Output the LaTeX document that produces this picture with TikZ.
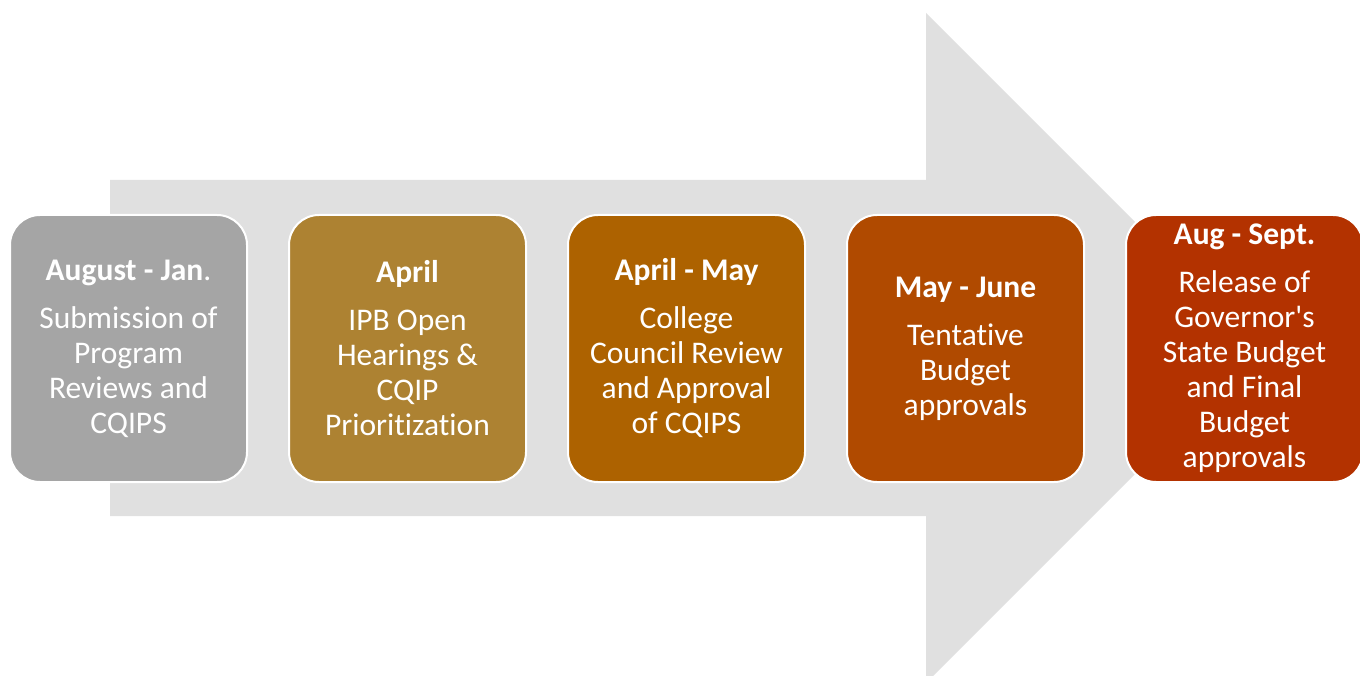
\documentclass[tikz,border=0pt]{standalone}
\usepackage{fontspec}
\setmainfont[Ligatures=NoCommon]{Carlito}
\begin{document}
\begin{tikzpicture}[x=1pt,y=-1pt,
  stage/.style={draw=white, line width=2pt, rounded corners=30pt,
    minimum width=237pt, minimum height=267pt, inner sep=0pt,
    text=white, align=center, font=\fontsize{31.5}{35}\selectfont},
]
\definecolor{arrowgray}{RGB}{224,224,224}
\definecolor{c1}{RGB}{165,165,165}
\definecolor{c2}{RGB}{173,130,50}
\definecolor{c3}{RGB}{173,98,0}
\definecolor{c4}{RGB}{176,74,0}
\definecolor{c5}{RGB}{179,50,0}
\useasboundingbox (0,0) rectangle (1360,676);
\clip (0,0) rectangle (1360,676);
\fill[white] (0,0) rectangle (1360,676);
\fill[arrowgray] (110,180) -- (926,180) -- (926,13) -- (1261,348) -- (926,683) -- (926,516) -- (110,516) -- cycle;
\node[stage, fill=c1] (s1) at (128.5,348.5) {\textbf{August - Jan}.\\[13pt]Submission of\\Program\\Reviews and\\CQIPS};
\node[stage, fill=c2] (s2) at (407.5,348.5) {\textbf{April}\\[13pt]IPB Open\\Hearings \&\\CQIP\\Prioritization};
\node[stage, fill=c3] (s3) at (686.5,348.5) {\textbf{April - May}\\[13pt]College\\Council Review\\and Approval\\of CQIPS};
\node[stage, fill=c4] (s4) at (965.5,348.5) {\textbf{May - June}\\[13pt]Tentative\\Budget\\approvals};
\node[stage, fill=c5] (s5) at (1244.5,348.5) {\textbf{Aug - Sept.}\\[13pt]Release of\\Governor\textquotesingle s\\State Budget\\and Final\\Budget\\approvals};
\end{tikzpicture}
\end{document}
